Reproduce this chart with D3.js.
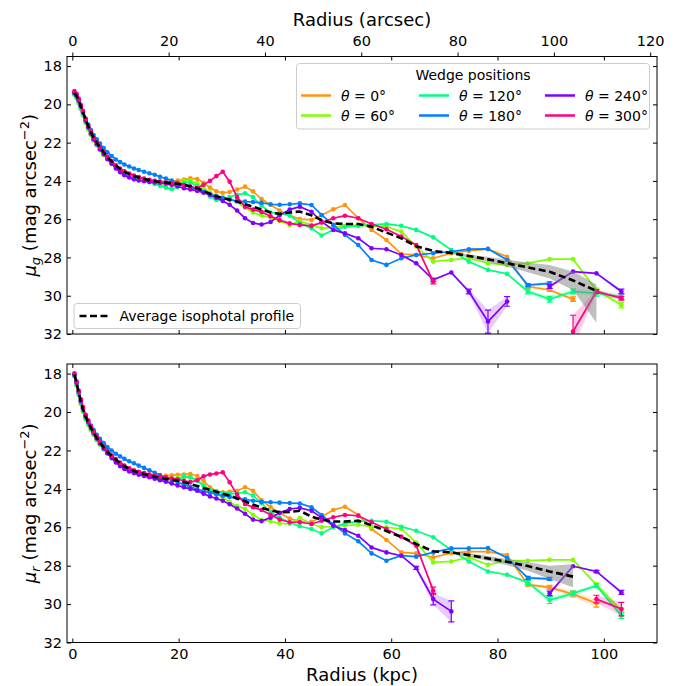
<!DOCTYPE html>
<html>
<head>
<meta charset="utf-8">
<script src="https://cdn.jsdelivr.net/npm/d3@7"></script>
<style>
body { margin: 0; background: #fff; }
svg text { font-family: "DejaVu Sans", sans-serif; }
</style>
</head>
<body>
<div id="chart"></div>
<script>
// radius grid (kpc) shared by all profiles
const radiusKpc = [
  0.4, 0.8, 1.2, 1.6, 2.0, 2.5, 3.0, 3.5, 4.0,
  4.6, 5.2, 5.9, 6.6, 7.4, 8.2, 9.0, 9.8,
  10.7, 11.6, 12.5, 13.5, 14.5, 15.5, 16.5, 17.6, 18.7, 19.8,
  21.0, 22.2, 23.5, 24.7, 25.9, 27.1, 28.3, 29.6,
  31.0, 32.5, 34.0, 35.6, 37.3, 39.0, 40.9,
  42.8, 45.0, 46.9, 49.1, 51.3, 53.8, 56.3, 59.1, 61.9, 64.7,
  67.9, 71.3, 74.6, 78.2, 81.8, 85.7, 89.8, 94.2, 98.6, 103.3
];
const kpcPerArcsec = 0.906;

const wedgeAngles = [0, 60, 120, 180, 240, 300];
const wedgeColors = ["#ff9410", "#80ff00", "#00ff80", "#0080ff", "#8000ff", "#ff0080"];

const kpcTicks = [0, 20, 40, 60, 80, 100];
const arcsecTicks = [0, 20, 40, 60, 80, 100, 120];
const muTicks = [18, 20, 22, 24, 26, 28, 30, 32];

// ---- g band ----
const muG0 = [19.45, 19.6, 19.85, 20.15, 20.45, 20.85, 21.2, 21.5, 21.8,
  22.05, 22.3, 22.55, 22.8, 23.03, 23.25, 23.42, 23.56,
  23.66, 23.76, 23.84, 23.91, 23.96, 24.0, 24.03, 24.04, 24.02, 23.98,
  23.93, 23.87, 23.9, 24.1, 24.35, 24.55, 24.62, 24.58,
  24.45, 24.3, 24.55, 24.95, 25.25, 25.55, 25.8,
  26.0, 26.04, 25.8, 25.48, 25.26, 25.95, 26.56, 27.09, 27.82, 27.87,
  28.04, 27.78, 27.66, 27.57, 27.96, 29.52, 29.7, 30.18, null, null];
const muG60 = [19.5, 19.68, 19.95, 20.25, 20.58, 20.98, 21.32, 21.62, 21.9,
  22.15, 22.4, 22.65, 22.88, 23.1, 23.3, 23.46, 23.6,
  23.72, 23.82, 23.9, 23.98, 24.06, 24.14, 24.2, 24.24, 24.22, 24.12,
  24.0, 23.98, 24.12, 24.35, 24.6, 24.78, 24.86, 24.95,
  25.1, 25.4, 25.65, 25.8, 25.92, 26.1, 26.3,
  26.1, 26.3, 26.48, 26.42, 26.35, 26.3, 26.35, 26.39, 26.65, 27.43,
  28.22, 28.13, 28.04, 28.3, 28.39, 28.3, 28.09, 28.09, 29.7, 30.48];
const muG120 = [19.48, 19.64, 19.9, 20.2, 20.52, 20.92, 21.26, 21.56, 21.85,
  22.1, 22.35, 22.6, 22.84, 23.06, 23.27, 23.44, 23.58,
  23.7, 23.8, 23.9, 23.98, 24.07, 24.16, 24.26, 24.35, 24.42, 24.32,
  24.1, 24.08, 24.28, 24.55, 24.82, 25.0, 24.96, 24.84,
  24.72, 24.65, 24.85, 25.3, 25.65, 25.7, 25.8,
  26.2, 26.48, 26.85, 26.56, 26.4, 26.35, 26.3, 26.25, 26.35, 26.56,
  26.95, 27.61, 28.22, 28.65, 28.86, 29.78, 30.18, 29.78, 29.87, 30.04];
const muG180 = [19.42, 19.56, 19.8, 20.08, 20.36, 20.74, 21.06, 21.34, 21.6,
  21.82, 22.05, 22.28, 22.5, 22.7, 22.88, 23.02, 23.14,
  23.25, 23.35, 23.43, 23.52, 23.6, 23.68, 23.78, 23.88, 23.98, 24.1,
  24.22, 24.34, 24.46, 24.58, 24.7, 24.8, 24.9, 24.98,
  25.05, 25.08, 25.1, 25.15, 25.22, 25.25, 25.22,
  25.17, 25.26, 25.78, 26.3, 26.82, 27.35, 28.13, 28.39, 28.04, 27.87,
  27.78, 27.7, 27.57, 27.55, 28.13, 29.44, 29.35, null, null, null];
const muG240 = [19.38, 19.52, 19.78, 20.1, 20.42, 20.84, 21.2, 21.52, 21.82,
  22.08, 22.34, 22.6, 22.85, 23.1, 23.35, 23.55, 23.7,
  23.82, 23.92, 23.98, 24.02, 24.05, 24.08, 24.1, 24.14, 24.2, 24.28,
  24.38, 24.45, 24.52, 24.62, 24.72, 24.88, 25.05, 25.25,
  25.55, 25.95, 26.2, 26.28, 26.15, 25.8, 25.5,
  25.35, 25.61, 26.13, 26.56, 26.74, 27.0, 27.52, 27.57, 27.87, 28.3,
  29.17, 28.79, 29.78, 31.35, 30.3, null, 29.52, 28.74, 28.83, 29.78];
const muG300 = [19.3, 19.45, 19.7, 20.02, 20.34, 20.75, 21.1, 21.42, 21.72,
  21.98, 22.24, 22.5, 22.74, 22.96, 23.18, 23.36, 23.5,
  23.62, 23.72, 23.8, 23.88, 23.94, 24.0, 24.04, 24.08, 24.12, 24.16,
  24.22, 24.3, 24.38, 24.2, 24.0, 23.75, 23.52, 24.04,
  24.85, 25.35, 25.5, 25.62, 25.85, 26.05, 26.22,
  26.3, 26.35, 26.18, 25.95, 25.82, 25.95, 26.25, 26.53, 26.91, 27.35,
  29.26, null, null, null, null, null, null, 31.87, 29.78, 30.13];
const avgG = [19.4, 19.55, 19.8, 20.1, 20.4, 20.8, 21.15, 21.45, 21.75,
  22.0, 22.25, 22.5, 22.75, 22.98, 23.2, 23.38, 23.52,
  23.64, 23.74, 23.82, 23.9, 23.96, 24.02, 24.06, 24.09, 24.12, 24.15,
  24.2, 24.28, 24.38, 24.52, 24.68, 24.8, 24.9, 24.98,
  25.08, 25.22, 25.35, 25.5, 25.65, 25.72, 25.65,
  25.6, 25.8, 26.05, 26.22, 26.25, 26.25, 26.4, 26.7, 27.0, 27.42,
  27.66, 27.77, 27.92, 28.1, 28.3, 28.52, 28.75, 29.2, 29.75, null];

// errors [radius, err]; unlisted points have negligible error
const errG0 = [[85.7, 0.08], [89.8, 0.08], [94.2, 0.12]];
const errG60 = [[98.6, 0.1], [103.3, 0.15]];
const errG120 = [[85.7, 0.12], [89.8, 0.15], [94.2, 0.12], [98.6, 0.15], [103.3, 0.15]];
const errG180 = [[85.7, 0.08], [89.8, 0.08]];
const errG240 = [[67.9, 0.08], [74.6, 0.12], [78.2, 0.6], [81.8, 0.25], [89.8, 0.1], [103.3, 0.12]];
const errG300 = [[67.9, 0.12], [94.2, 0.85], [98.6, 0.1], [103.3, 0.1]];
// average band [radius, up, down]
const avgGBand = [[71.3, 0.05, 0.05], [74.6, 0.08, 0.08], [78.2, 0.12, 0.12], [81.8, 0.18, 0.18],
  [85.7, 0.25, 0.25], [89.8, 0.35, 0.35], [94.2, 0.46, 0.5], [98.6, 0.34, 1.66]];

// ---- r band ----
const muR0 = [18.1, 18.55, 19.05, 19.5, 19.9, 20.3, 20.6, 20.87, 21.12,
  21.4, 21.64, 21.88, 22.1, 22.32, 22.52, 22.7, 22.85,
  22.96, 23.06, 23.14, 23.21, 23.27, 23.31, 23.33, 23.32, 23.3, 23.27,
  23.25, 23.23, 23.33, 23.58, 23.92, 24.12, 24.18, 24.16,
  24.1, 23.92, 24.1, 24.6, 24.95, 25.25, 25.55,
  25.7, 25.72, 25.45, 25.1, 24.93, 25.36, 26.09, 26.66, 27.31, 27.36,
  27.57, 27.34, 27.27, 27.27, 27.45, 28.99, 29.13, 29.48, 29.96, null];
const muR60 = [18.15, 18.62, 19.12, 19.58, 19.98, 20.38, 20.68, 20.95, 21.2,
  21.47, 21.71, 21.95, 22.17, 22.38, 22.58, 22.75, 22.9,
  23.02, 23.12, 23.2, 23.28, 23.36, 23.43, 23.48, 23.5, 23.48, 23.42,
  23.38, 23.42, 23.55, 23.8, 24.05, 24.27, 24.45, 24.68,
  24.9, 25.05, 25.35, 25.62, 25.7, 25.8, 25.83,
  25.52, 25.83, 26.0, 25.95, 25.9, 25.87, 25.97, 26.0, 26.09, 26.79,
  27.83, 27.78, 27.57, 27.95, 27.74, 27.74, 27.7, 27.7, 28.99, 30.34];
const muR120 = [18.12, 18.58, 19.08, 19.54, 19.94, 20.34, 20.64, 20.91, 21.16,
  21.44, 21.68, 21.92, 22.14, 22.35, 22.55, 22.72, 22.87,
  23.0, 23.1, 23.19, 23.28, 23.36, 23.44, 23.52, 23.6, 23.64, 23.55,
  23.35, 23.38, 23.58, 23.84, 24.04, 24.18, 24.22, 24.26,
  24.22, 24.18, 24.35, 24.75, 25.2, 25.5, 25.75,
  25.95, 26.09, 26.32, 26.0, 25.8, 25.69, 25.66, 25.71, 25.97, 26.18,
  26.52, 27.18, 27.78, 28.3, 28.47, 28.87, 29.79, 29.44, 29.04, 30.6];
const muR180 = [18.08, 18.48, 18.96, 19.4, 19.78, 20.16, 20.44, 20.7, 20.93,
  21.18, 21.4, 21.62, 21.82, 22.0, 22.17, 22.31, 22.44,
  22.56, 22.67, 22.79, 22.91, 23.03, 23.16, 23.28, 23.4, 23.52, 23.64,
  23.78, 23.9, 24.02, 24.12, 24.2, 24.28, 24.36, 24.42,
  24.48, 24.55, 24.62, 24.68, 24.7, 24.72, 24.74,
  24.76, 24.96, 25.36, 25.85, 26.32, 26.73, 27.36, 27.74, 27.48, 27.53,
  27.31, 27.1, 27.1, 27.08, 27.6, 28.64, 28.69, null, null, null];
const muR240 = [18.02, 18.45, 18.95, 19.42, 19.82, 20.22, 20.53, 20.82, 21.08,
  21.37, 21.63, 21.9, 22.15, 22.4, 22.63, 22.82, 22.97,
  23.1, 23.18, 23.26, 23.33, 23.4, 23.47, 23.55, 23.63, 23.72, 23.82,
  23.92, 24.0, 24.1, 24.25, 24.4, 24.5, 24.62, 24.8,
  25.02, 25.3, 25.6, 25.68, 25.5, 25.25, 25.05,
  24.99, 25.14, 25.5, 25.92, 26.15, 26.44, 27.05, 27.31, 27.48, 28.12,
  29.74, 30.38, null, null, null, null, 29.44, 28.03, 28.3, 29.39];
const muR300 = [17.98, 18.4, 18.88, 19.34, 19.74, 20.14, 20.45, 20.74, 21.0,
  21.28, 21.54, 21.8, 22.03, 22.25, 22.45, 22.63, 22.79,
  22.93, 23.03, 23.11, 23.18, 23.25, 23.31, 23.36, 23.41, 23.46, 23.5,
  23.58, 23.65, 23.55, 23.35, 23.25, 23.2, 23.14, 23.66,
  24.3, 24.79, 24.96, 25.1, 25.35, 25.6, 25.74,
  25.74, 25.83, 25.66, 25.48, 25.36, 25.4, 25.74, 26.09, 26.49, 26.96,
  29.3, null, null, null, null, null, null, null, 29.74, 30.26];
const avgR = [18.05, 18.5, 19.0, 19.45, 19.85, 20.25, 20.55, 20.82, 21.08,
  21.35, 21.6, 21.84, 22.07, 22.28, 22.48, 22.66, 22.82,
  22.96, 23.07, 23.15, 23.23, 23.3, 23.37, 23.43, 23.48, 23.53, 23.58,
  23.65, 23.75, 23.85, 23.95, 24.05, 24.15, 24.25, 24.35,
  24.5, 24.65, 24.82, 24.98, 25.12, 25.22, 25.2,
  25.14, 25.45, 25.6, 25.7, 25.7, 25.66, 25.9, 26.2, 26.5, 26.87,
  27.25, 27.31, 27.45, 27.62, 27.8, 28.02, 28.3, 28.57, null, null];

const errR0 = [[85.7, 0.08], [89.8, 0.1], [94.2, 0.15], [98.6, 0.2]];
const errR60 = [[98.6, 0.1], [103.3, 0.12]];
const errR120 = [[85.7, 0.1], [89.8, 0.18], [94.2, 0.12], [98.6, 0.1], [103.3, 0.15]];
const errR180 = [[85.7, 0.08], [89.8, 0.08]];
const errR240 = [[64.7, 0.08], [67.9, 0.3], [71.3, 0.55], [89.8, 0.12], [98.6, 0.06], [103.3, 0.1]];
const errR300 = [[67.9, 0.18], [98.6, 0.2], [103.3, 0.35]];
const avgRBand = [[71.3, 0.05, 0.05], [74.6, 0.1, 0.1], [78.2, 0.12, 0.12], [81.8, 0.15, 0.18],
  [85.7, 0.2, 0.25], [89.8, 0.3, 0.4], [94.2, 0.65, 0.55]];

// ---------------------------------------------------------------
const W = 675, H = 686;
const left = 67, right = 657;
const svg = d3.select("#chart").append("svg").attr("width", W).attr("height", H);

const x = d3.scaleLinear().domain([-1, 110]).range([left, right]);
const xArc = d3.scaleLinear().domain([-1 / kpcPerArcsec, 110 / kpcPerArcsec]).range([left, right]);

const panels = [
    { id: "g", top: 56.5, bottom: 334, mus: [muG0, muG60, muG120, muG180, muG240, muG300],
      errs: [errG0, errG60, errG120, errG180, errG240, errG300], avg: avgG, avgBand: avgGBand },
    { id: "r", top: 364, bottom: 642.5, mus: [muR0, muR60, muR120, muR180, muR240, muR300],
      errs: [errR0, errR60, errR120, errR180, errR240, errR300], avg: avgR, avgBand: avgRBand },
];

panels.forEach((p, pi) => {
    const y = d3.scaleLinear().domain([17.5, 32]).range([p.top, p.bottom]);

    svg.append("clipPath").attr("id", "clip-" + p.id)
        .append("rect").attr("x", left).attr("y", p.top)
        .attr("width", right - left).attr("height", p.bottom - p.top);

    const plot = svg.append("g").attr("clip-path", `url(#clip-${p.id})`);

    // wedge profiles
    p.mus.forEach((mu, k) => {
        const errMap = new Map(p.errs[k]);
        const pts = radiusKpc.map((r, i) => ({ r: r, mu: mu[i], err: errMap.get(r) || 0 }));
        const color = wedgeColors[k];

        plot.append("path").datum(pts)
            .attr("d", d3.area().defined((d) => d.mu != null)
                .x((d) => x(d.r)).y0((d) => y(d.mu - d.err)).y1((d) => y(d.mu + d.err)))
            .attr("fill", color).attr("opacity", 0.2);

        plot.append("path").datum(pts)
            .attr("d", d3.line().defined((d) => d.mu != null).x((d) => x(d.r)).y((d) => y(d.mu)))
            .attr("fill", "none").attr("stroke", color).attr("stroke-width", 1.7);

        const valid = pts.filter((d) => d.mu != null);
        plot.selectAll(null).data(valid.filter((d) => d.err > 0)).join("path")
            .attr("d", (d) => {
                const cx = x(d.r), y0 = y(d.mu - d.err), y1 = y(d.mu + d.err);
                return `M${cx},${y0}V${y1}M${cx - 3},${y0}H${cx + 3}M${cx - 3},${y1}H${cx + 3}`;
            })
            .attr("stroke", color).attr("stroke-width", 1.2).attr("fill", "none");

        plot.selectAll(null).data(valid).join("circle")
            .attr("cx", (d) => x(d.r)).attr("cy", (d) => y(d.mu)).attr("r", 2.3)
            .attr("fill", color);
    });

    // average isophotal profile
    const bandMap = new Map(p.avgBand.map((b) => [b[0], b]));
    const avgPts = radiusKpc.map((r, i) => ({ r: r, mu: p.avg[i], band: bandMap.get(r) }));
    const bandPts = avgPts.filter((d) => d.band && d.mu != null);
    plot.append("path").datum(bandPts)
        .attr("d", d3.area().x((d) => x(d.r)).y0((d) => y(d.mu - d.band[1])).y1((d) => y(d.mu + d.band[2])))
        .attr("fill", "#808080").attr("opacity", 0.5);
    plot.append("path").datum(avgPts)
        .attr("d", d3.line().defined((d) => d.mu != null).x((d) => x(d.r)).y((d) => y(d.mu)))
        .attr("fill", "none").attr("stroke", "#000").attr("stroke-width", 2.6)
        .attr("stroke-dasharray", "7,3.5");

    // axes
    const styleAxis = (g) => {
        g.select(".domain").remove();
        g.selectAll("line").attr("stroke", "#000");
        g.attr("font-size", 14.5).attr("font-family", "DejaVu Sans, sans-serif");
        g.selectAll("text").attr("fill", "#000");
    };
    svg.append("g").attr("transform", `translate(${left},0)`)
        .call(d3.axisLeft(y).tickValues(muTicks).tickSizeInner(-4).tickSizeOuter(0).tickPadding(5))
        .call(styleAxis);
    svg.append("g").attr("transform", `translate(${right},0)`)
        .call(d3.axisRight(y).tickValues(muTicks).tickSizeInner(-4).tickSizeOuter(0).tickFormat(""))
        .call(styleAxis);
    svg.append("g").attr("transform", `translate(0,${p.top})`)
        .call(d3.axisTop(x).tickValues(kpcTicks).tickSizeInner(-4).tickSizeOuter(0).tickFormat(""))
        .call(styleAxis);
    const bottomAxis = d3.axisBottom(x).tickValues(kpcTicks).tickSizeInner(-4).tickSizeOuter(0).tickPadding(6);
    if (pi === 0) bottomAxis.tickFormat("");
    svg.append("g").attr("transform", `translate(0,${p.bottom})`)
        .call(bottomAxis).call(styleAxis);

    if (pi === 0) {
        svg.append("g").attr("transform", `translate(0,${p.top})`)
            .call(d3.axisTop(xArc).tickValues(arcsecTicks).tickSizeInner(4).tickSizeOuter(0).tickPadding(7))
            .call(styleAxis);
    }

    svg.append("rect").attr("x", left).attr("y", p.top)
        .attr("width", right - left).attr("height", p.bottom - p.top)
        .attr("fill", "none").attr("stroke", "#000").attr("stroke-width", 1);

    // y label
    const yl = svg.append("text")
        .attr("transform", `translate(36,${(p.top + p.bottom) / 2}) rotate(-90)`)
        .attr("text-anchor", "middle").attr("font-size", 18);
    yl.append("tspan").attr("font-style", "italic").text("μ");
    yl.append("tspan").attr("font-style", "italic").attr("font-size", 13).attr("dy", 4).text(p.id);
    yl.append("tspan").attr("dy", -4).text(" (mag arcsec");
    yl.append("tspan").attr("font-size", 13).attr("dy", -7).text("−2");
    yl.append("tspan").attr("dy", 7).text(")");
});

// axis titles
svg.append("text").attr("x", (left + right) / 2).attr("y", 26).attr("text-anchor", "middle")
    .attr("font-size", 18).text("Radius (arcsec)");
svg.append("text").attr("x", (left + right) / 2).attr("y", 681).attr("text-anchor", "middle")
    .attr("font-size", 18).text("Radius (kpc)");

// wedge legend
const leg = svg.append("g");
leg.append("rect").attr("x", 296.5).attr("y", 63.5).attr("width", 353).attr("height", 65.5)
    .attr("rx", 3).attr("fill", "#fff").attr("fill-opacity", 0.8)
    .attr("stroke", "#cccccc").attr("stroke-width", 1);
leg.append("text").attr("x", 473).attr("y", 80).attr("text-anchor", "middle")
    .attr("font-size", 14).text("Wedge positions");
const colX = [301, 419, 545];
wedgeAngles.forEach((a, k) => {
    const cx = colX[Math.floor(k / 2)];
    const cy = k % 2 === 0 ? 95.5 : 115.5;
    leg.append("line").attr("x1", cx).attr("x2", cx + 30).attr("y1", cy).attr("y2", cy)
        .attr("stroke", wedgeColors[k]).attr("stroke-width", 2.5);
    const t = leg.append("text").attr("x", cx + 40).attr("y", cy + 5).attr("font-size", 14);
    t.append("tspan").attr("font-style", "italic").text("θ");
    t.append("tspan").text(` = ${a}°`);
});

// average legend
const leg2 = svg.append("g");
leg2.append("rect").attr("x", 74).attr("y", 303.5).attr("width", 226.5).attr("height", 25)
    .attr("rx", 3).attr("fill", "#fff").attr("fill-opacity", 0.8)
    .attr("stroke", "#cccccc").attr("stroke-width", 1);
leg2.append("line").attr("x1", 79.5).attr("x2", 108.5).attr("y1", 316).attr("y2", 316)
    .attr("stroke", "#000").attr("stroke-width", 2.6).attr("stroke-dasharray", "7,3.5");
leg2.append("text").attr("x", 119.5).attr("y", 321).attr("font-size", 14)
    .text("Average isophotal profile");
</script>
</body>
</html>
